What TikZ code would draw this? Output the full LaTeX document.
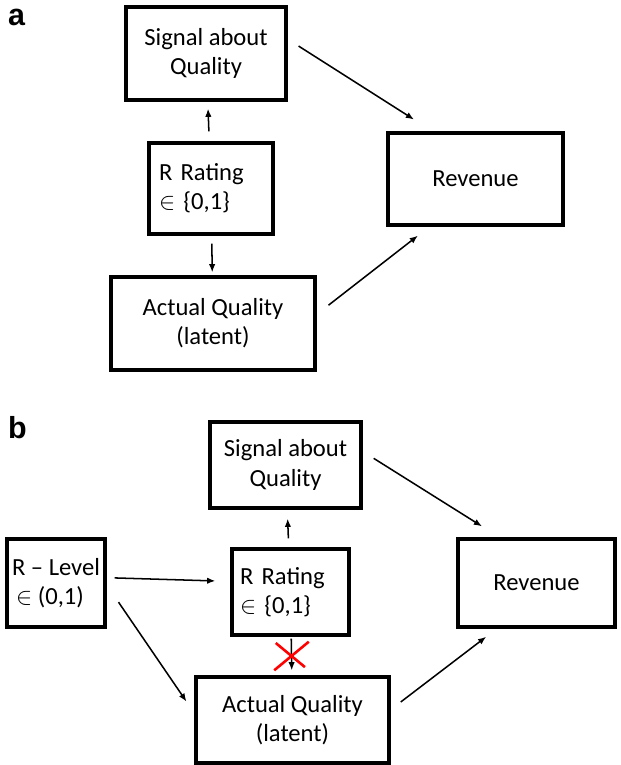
\documentclass[tikz,border=0pt]{standalone}
\usepackage{fontspec}
\setmainfont{Carlito}
\newfontfamily\panelfont{Liberation Sans}
\usetikzlibrary{positioning}
\usetikzlibrary{arrows.meta,shapes.misc}

\begin{document}
\begin{tikzpicture}[x=0.03cm,y=-0.03cm,
  every node/.style={draw,line width=2.8pt,inner sep=0pt,align=center,
    font=\fontsize{21}{25}\selectfont},
  rating/.style={align=left},
  panel/.style={draw=none,anchor=base west,font=\panelfont\fontsize{26}{30}\selectfont\bfseries},
  link/.style={->,line width=1.3pt},
  >={Latex[length=7pt,width=5.5pt]}]
\useasboundingbox (0,0) rectangle (620,765);

% a
\node[panel] (lab a) at (6.5,26) {a};
\node (siga) at (206,53.5) [minimum width=4.8cm,minimum height=2.79cm] {Signal about\\Quality};
\node (rata) at (211,188.5) [rating,minimum width=3.72cm,minimum height=2.73cm,text width=3.12cm] {R Rating\\$\in$ \{0,1\}};
\node (acta) at (213,323.5) [minimum width=6.12cm,minimum height=2.79cm] {Actual Quality\\(latent)};
\node (reva) at (475.5,179) [minimum width=5.25cm,minimum height=2.76cm] {Revenue};
\draw [link,shorten <=0.3cm,shorten >=0.21cm] (rata) -- (siga);
\draw [link,shorten <=0.24cm,shorten >=0.09cm] (rata) -- (acta);
\draw [link,shorten <=0.39cm,shorten >=0.66cm] (siga.10) -- (reva.132);
\draw [link,shorten <=0.45cm,shorten >=0.44cm] (acta.5) -- (reva.226);

% b
\node[panel] (lab b) at (6.5,438) {b};
\node (sigb) at (285.5,465) [minimum width=4.53cm,minimum height=2.58cm] {Signal about\\Quality};
\node (ratb) at (290.5,592) [rating,minimum width=3.51cm,minimum height=2.58cm,text width=3.03cm] {R Rating\\$\in$ \{0,1\}};
\node (lvlb) at (56,583) [rating,minimum width=2.94cm,minimum height=2.64cm] {R -- Level\\\,$\in$ (0,1)};
\node (actb) at (292.5,720) [minimum width=5.79cm,minimum height=2.58cm] {Actual Quality\\(latent)};
\node (revb) at (536.5,583) [minimum width=4.71cm,minimum height=2.64cm] {Revenue};
\draw [link,shorten <=0.27cm,shorten >=0.27cm] (ratb) -- (sigb);
\draw [link,shorten <=0.06cm,shorten >=0.15cm] (ratb) -- (actb)
  node [midway,cross out,draw=red,line width=2.2pt,minimum width=0.96cm,minimum height=0.78cm] (cut) {};
\draw [link,shorten <=0.24cm,shorten >=0.45cm] (lvlb.6) -- (ratb.170);
\draw [link,shorten <=0.63cm,shorten >=0.42cm] (lvlb.-2) -- (actb.176);
\draw [link,shorten <=0.39cm,shorten >=0.62cm] (sigb.10) -- (revb.129);
\draw [link,shorten <=0.38cm,shorten >=0.4cm] (actb.6) -- (revb.229);
\end{tikzpicture}
\end{document}
